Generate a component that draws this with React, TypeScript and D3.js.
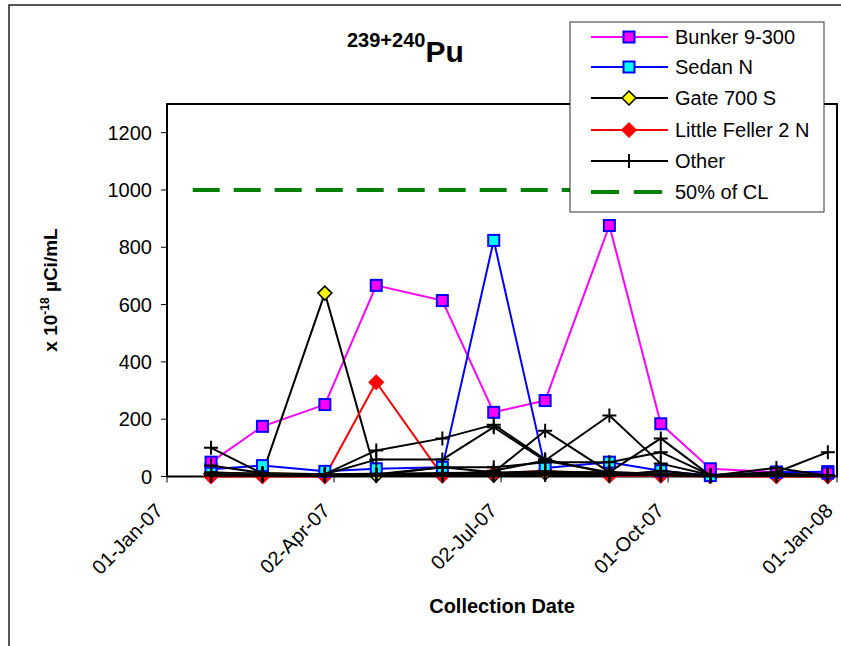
import React, { useEffect, useRef } from 'react'
import * as d3 from 'd3'

// collection dates (2007)
const dates = ['2007-01-25', '2007-02-22', '2007-03-28', '2007-04-25', '2007-05-31', '2007-06-28',
  '2007-07-26', '2007-08-30', '2007-09-27', '2007-10-24', '2007-11-29', '2007-12-27']

const bunker = [50, 175, 251, 667, 614, 224, 265, 876, 184, 27, 15, 12]
const sedan = [25, 38, 18, 27, 32, 824, 30, 50, 20, 3, 15, 17]
const gate = [10, 10, 640, 5, 5, 5, 12, 10, 5, 3, 5, 3]
const feller = [0, 0, 0, 329, 3, 10, 20, 3, 3, 0, 0, 0]

// the many "Other" stations
const others = [
  [100, 10, 8, 91, 133, 181, 60, 10, 5, 3, 5, 3],
  [38, 12, 8, 59, 59, 172, 55, 15, 10, 3, 5, 3],
  [10, 5, 5, 5, 32, 15, 160, 15, 10, 3, 10, 5],
  [5, 5, 5, 5, 5, 20, 56, 213, 45, 5, 5, 3],
  [5, 5, 5, 5, 5, 5, 15, 15, 133, 3, 10, 3],
  [15, 8, 5, 8, 32, 32, 50, 50, 85, 5, 15, 85],
  [3, 3, 3, 3, 3, 3, 5, 3, 20, 3, 30, 3],
  [8, 6, 4, 6, 8, 10, 12, 8, 6, 2, 4, 2],
  [12, 10, 8, 10, 12, 14, 18, 12, 10, 4, 6, 4],
  [6, 4, 2, 3, 4, 6, 8, 5, 4, 1, 2, 1],
]

const clDates = ['2007-01-15', '2007-12-01']
const clValues = [1000, 1000]

const xTicks = ['2007-01-01', '2007-04-02', '2007-07-02', '2007-10-01', '2008-01-01']
const xTickLabels = ['01-Jan-07', '02-Apr-07', '02-Jul-07', '01-Oct-07', '01-Jan-08']
const yTicks = [0, 200, 400, 600, 800, 1000, 1200]

const legendLabels = ['Bunker 9-300', 'Sedan N', 'Gate 700 S', 'Little Feller 2 N', 'Other', '50% of CL']

const FONT = 'Liberation Sans, Arial, sans-serif'

const App = () => {
  const ref = useRef<SVGSVGElement>(null)

  useEffect(() => {
    const svg = d3.select(ref.current)
    svg.selectAll('*').remove()

    const parse = d3.utcParse('%Y-%m-%d')
    const left = 167, right = 837, top = 104, bottom = 476.5

    const x = d3.scaleUtc()
      .domain([parse('2007-01-01'), parse('2008-01-01')])
      .range([left, right])
    const y = d3.scaleLinear().domain([0, 1300]).range([bottom, top])

    // outer chart border
    svg.append('path')
      .attr('d', 'M9,646 L9,5 L841,5')
      .attr('fill', 'none').attr('stroke', '#222').attr('stroke-width', 1.5)

    // plot frame
    svg.append('rect')
      .attr('x', left).attr('y', top)
      .attr('width', right - left).attr('height', bottom - top)
      .attr('fill', 'none').attr('stroke', '#000').attr('stroke-width', 2)

    // y axis
    const yAxis = svg.append('g')
    yAxis.selectAll('line').data(yTicks).enter().append('line')
      .attr('x1', left - 6).attr('x2', left)
      .attr('y1', d => y(d)).attr('y2', d => y(d))
      .attr('stroke', '#000').attr('stroke-width', 1)
    yAxis.selectAll('text').data(yTicks).enter().append('text')
      .attr('x', 152).attr('y', d => y(d) + 7)
      .attr('text-anchor', 'end')
      .attr('font-family', FONT).attr('font-size', 20)
      .text(d => d)

    // x axis
    const xAxis = svg.append('g')
    xAxis.selectAll('line').data(xTicks).enter().append('line')
      .attr('x1', d => x(parse(d))).attr('x2', d => x(parse(d)))
      .attr('y1', bottom).attr('y2', bottom + 6)
      .attr('stroke', '#000').attr('stroke-width', 1)
    xAxis.selectAll('text').data(xTicks).enter().append('text')
      .attr('transform', d => `translate(${x(parse(d)) - 3}, 512) rotate(-45)`)
      .attr('text-anchor', 'end')
      .attr('font-family', FONT).attr('font-size', 20)
      .text((d, i) => xTickLabels[i])

    // 50% of CL
    const line = d3.line<[Date, number]>().x(d => x(d[0])).y(d => y(d[1]))
    svg.append('path')
      .attr('d', line(clDates.map((d, i) => [parse(d), clValues[i]])))
      .attr('fill', 'none').attr('stroke', '#008000').attr('stroke-width', 4)
      .attr('stroke-dasharray', '27,14')

    const pts = (vals: number[]) => dates.map((d, i) => [parse(d), vals[i]] as [Date, number])

    const drawSeries = (vals: number[], color: string, width: number) => {
      svg.append('path')
        .attr('d', line(pts(vals)))
        .attr('fill', 'none').attr('stroke', color).attr('stroke-width', width)
        .attr('stroke-linejoin', 'round')
    }

    const square = (g, cx, cy, fill) => g.append('rect')
      .attr('x', cx - 5.5).attr('y', cy - 5.5).attr('width', 11).attr('height', 11)
      .attr('fill', fill).attr('stroke', '#0000ff').attr('stroke-width', 2)
    const diamond = (g, cx, cy, fill, stroke) => g.append('path')
      .attr('d', `M${cx},${cy - 7} L${cx + 7},${cy} L${cx},${cy + 7} L${cx - 7},${cy} Z`)
      .attr('fill', fill).attr('stroke', stroke).attr('stroke-width', 1.5)
    const plus = (g, cx, cy) => g.append('path')
      .attr('d', `M${cx - 7},${cy} L${cx + 7},${cy} M${cx},${cy - 7} L${cx},${cy + 7}`)
      .attr('stroke', '#000').attr('stroke-width', 2)

    // named stations
    drawSeries(bunker, '#ff00ff', 2)
    drawSeries(sedan, '#0000ff', 2)
    drawSeries(gate, '#000', 2)
    drawSeries(feller, '#ff0000', 2)

    const mk = svg.append('g')
    pts(gate).forEach(p => diamond(mk, x(p[0]), y(p[1]), '#ffff00', '#000'))
    pts(feller).forEach(p => diamond(mk, x(p[0]), y(p[1]), '#ff0000', '#ff0000'))
    pts(sedan).forEach(p => square(mk, x(p[0]), y(p[1]), '#00ffff'))
    pts(bunker).forEach(p => square(mk, x(p[0]), y(p[1]), '#ff00ff'))

    // other stations
    others.forEach(o => drawSeries(o, '#000', 2))
    const om = svg.append('g')
    others.forEach(o => pts(o).forEach(p => plus(om, x(p[0]), y(p[1]))))

    // titles
    const title = svg.append('text')
      .attr('x', 347).attr('y', 62)
      .attr('font-family', FONT).attr('font-weight', 'bold')
    title.append('tspan').attr('font-size', 20).attr('dy', -15).text('239+240')
    title.append('tspan').attr('font-size', 30).attr('dy', 15).text('Pu')

    const yl = svg.append('text')
      .attr('transform', 'translate(57, 290) rotate(-90)')
      .attr('text-anchor', 'middle')
      .attr('font-family', FONT).attr('font-weight', 'bold').attr('font-size', 19)
    yl.append('tspan').text('x 10')
    yl.append('tspan').attr('font-size', 12).attr('dy', -8).text('-18')
    yl.append('tspan').attr('dy', 8).text(' µCi/mL')

    svg.append('text')
      .attr('x', 502).attr('y', 613)
      .attr('text-anchor', 'middle')
      .attr('font-family', FONT).attr('font-weight', 'bold').attr('font-size', 20)
      .text('Collection Date')

    // legend
    const lg = svg.append('g')
    lg.append('rect')
      .attr('x', 570).attr('y', 22).attr('width', 254).attr('height', 190)
      .attr('fill', '#fff').attr('stroke', '#333').attr('stroke-width', 1)
    const rowY = [37, 67, 98, 130, 161, 192]
    const colors = ['#ff00ff', '#0000ff', '#000', '#ff0000', '#000', '#008000']
    legendLabels.forEach((lab, i) => {
      const ry = rowY[i]
      const l = lg.append('line')
        .attr('x1', 591).attr('x2', i === 5 ? 662 : 668)
        .attr('y1', ry).attr('y2', ry)
        .attr('stroke', colors[i]).attr('stroke-width', i === 5 ? 4 : 2)
      if (i === 5) l.attr('stroke-dasharray', '28,15')
      if (i === 0) square(lg, 629, ry, '#ff00ff')
      if (i === 1) square(lg, 629, ry, '#00ffff')
      if (i === 2) diamond(lg, 629, ry, '#ffff00', '#000')
      if (i === 3) diamond(lg, 629, ry, '#ff0000', '#ff0000')
      if (i === 4) plus(lg, 629, ry)
      lg.append('text')
        .attr('x', 675).attr('y', ry + 7)
        .attr('font-family', FONT).attr('font-size', 20)
        .text(lab)
    })
  }, [])

  return (
    <svg ref={ref} width={841} height={646}
      style={{ position: 'absolute', left: 0, top: 0, background: '#fff' }} />
  )
}

export default App
